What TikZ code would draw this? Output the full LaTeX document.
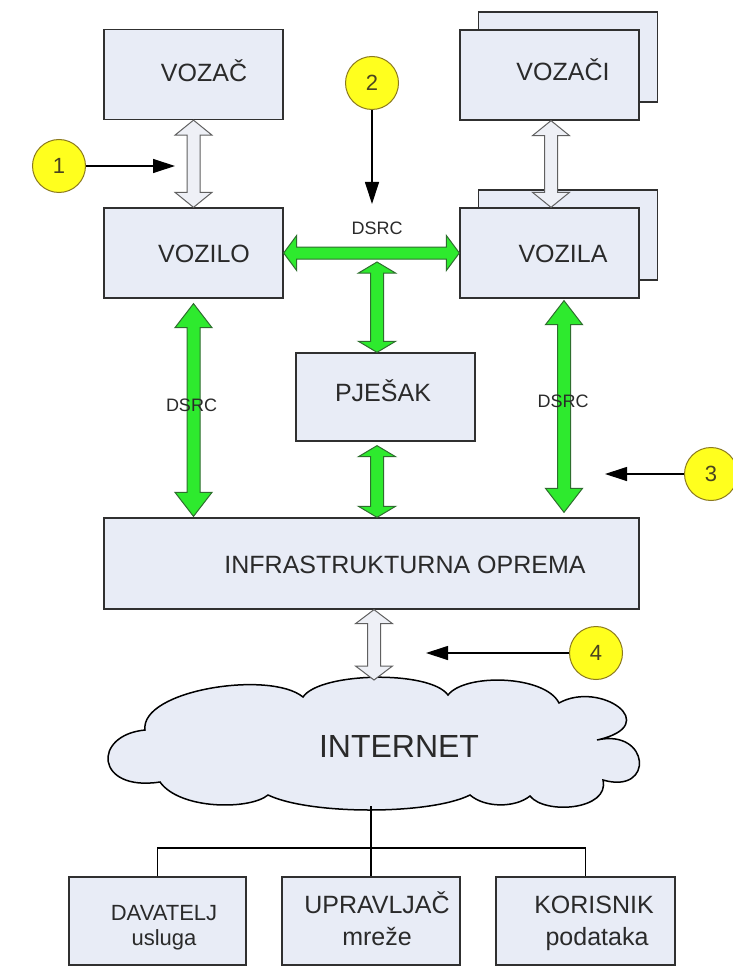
\documentclass[tikz,border=0pt]{standalone}
\usepackage{fontspec}
\setmainfont{Liberation Sans}
\usetikzlibrary{arrows.meta,calc}
\definecolor{boxfill}{HTML}{E8ECF6}
\definecolor{boxline}{HTML}{303030}
\definecolor{txt}{HTML}{2A2A2A}
\definecolor{grfill}{HTML}{2EEA2E}
\definecolor{grline}{HTML}{2E6E2E}
\definecolor{yfill}{HTML}{FFFF1E}
\definecolor{yline}{HTML}{8C7A1E}
\definecolor{ytxt}{HTML}{4A4420}
\definecolor{wfill}{HTML}{EEF0F6}
\definecolor{wline}{HTML}{606060}
\newcommand{\myVarrow}[4]{%
  \filldraw[#1] let \p1=(#2), \p2=(#3) in
   (\x1,\y1) -- (\x1+18.5pt,\y1-#4) -- (\x1+6.5pt,\y1-#4) -- (\x1+6.5pt,\y2+#4)
   -- (\x1+18.5pt,\y2+#4) -- (\x1,\y2) -- (\x1-18.5pt,\y2+#4) -- (\x1-6.5pt,\y2+#4)
   -- (\x1-6.5pt,\y1-#4) -- (\x1-18.5pt,\y1-#4) -- cycle;}
\newcommand{\myHarrow}[4]{%
  \filldraw[#1] let \p1=(#2), \p2=(#3) in
   (\x1,\y1) -- (\x1+#4,\y1+17.5pt) -- (\x1+#4,\y1+6pt) -- (\x2-#4,\y1+6pt)
   -- (\x2-#4,\y1+17.5pt) -- (\x2,\y1) -- (\x2-#4,\y1-17.5pt) -- (\x2-#4,\y1-6pt)
   -- (\x1+#4,\y1-6pt) -- (\x1+#4,\y1-17.5pt) -- cycle;}
\begin{document}
\begin{tikzpicture}[x=1pt,y=-1pt,
  box/.style={draw=boxline, fill=boxfill, line width=1.3pt, minimum width=179pt, minimum height=90pt, inner sep=0pt},
  lbl/.style={text=txt, font=\fontsize{25}{28}\selectfont, inner sep=0pt, anchor=base},
  small/.style={text=txt, font=\fontsize{22}{26}\selectfont, inner sep=0pt, anchor=base},
  dsrc/.style={text=txt, font=\fontsize{18}{20}\selectfont, inner sep=0pt, anchor=base},
  circ/.style={circle, minimum size=53pt, inner sep=0pt, fill=yfill, draw=yline, line width=1pt, text=ytxt, font=\fontsize{22}{24}\selectfont},
  callout/.style={draw=black, line width=1.2pt, -{Triangle[length=22pt,width=14pt]}},
  grarrow/.style={fill=grfill, draw=grline, line width=1pt},
  wharrow/.style={fill=wfill, draw=wline, line width=1pt},
  tree/.style={draw=black, line width=1.2pt}
]
\useasboundingbox (0,0) rectangle (732,968);
\fill[fill=white] (-10,-10) rectangle (742,978);

% boxes
\node[box] (vozac) at (193.5,74.5) {};
\node[box] (vozilo) at (193.5,253) {};
\node[box] (vozaciB) at (568,57) {};
\node[box] (vozaci) at (549.5,75) {};
\node[box] (vozilaB) at (568,235) {};
\node[box] (vozila) at (549.5,253) {};
\node[box, minimum height=88pt] (pjesak) at (385.5,397) {};
\node[box, minimum width=535pt, minimum height=91pt] (infra) at (371.5,563.5) {};
\node[box, minimum width=177pt, minimum height=88pt] (davatelj) at (157.5,921) {};
\node[box, minimum width=178pt, minimum height=88pt] (upravljac) at (371,921) {};
\node[box, minimum height=88pt] (korisnik) at (585.5,921) {};

% cloud
\filldraw[fill=boxfill, draw=black, line width=1.5pt]
  (145,730) .. controls (140,690) and (270,670) .. (303,697)
  .. controls (320,672) and (430,670) .. (448,695)
  .. controls (465,673) and (545,675) .. (559,703)
  .. controls (600,680) and (665,725) .. (597,740)
  .. controls (650,728) and (655,795) .. (603,780)
  .. controls (610,810) and (545,815) .. (530,796)
  .. controls (515,808) and (485,808) .. (470,795)
  .. controls (430,815) and (310,815) .. (268,795)
  .. controls (250,810) and (180,810) .. (160,782)
  .. controls (95,792) and (92,735) .. (145,730) -- cycle;
\coordinate (cloudtop) at (374,680);
\coordinate (cloudbot) at (371,806);

% labels
\node[lbl] (vozacT) at (204,82) {VOZAČ};
\node[lbl] (voziloT) at (204,262) {VOZILO};
\node[lbl] (vozaciT) at (563,81) {VOZAČI};
\node[lbl] (vozilaT) at (563,262) {VOZILA};
\node[lbl] (pjesakT) at (383,401) {PJEŠAK};
\node[lbl] (infraT) at (405,573) {INFRASTRUKTURNA OPREMA};
\node[lbl, font=\fontsize{32}{36}\selectfont] (internetT) at (399,757) {INTERNET};
\node[small] (davateljT) at (164,920) {DAVATELJ};
\node[small] (uslugaT) at (164,945) {usluga};
\node[lbl] (upravljacT) at (377,913) {UPRAVLJAČ};
\node[lbl] (mrezeT) at (377,945) {mreže};
\node[lbl] (korisnikT) at (594,913) {KORISNIK};
\node[lbl] (podatakaT) at (597,945) {podataka};

% white arrows
\myVarrow{wharrow}{vozac.south}{vozilo.north}{15pt}
\myVarrow{wharrow}{$(vozaci.south)+(1.5,0)$}{$(vozila.north)+(1.5,0)$}{15pt}
\myVarrow{wharrow}{$(infra.south)+(2.5,0)$}{cloudtop}{14pt}

% green arrows
\coordinate (j) at (377,262);
\myHarrow{grarrow}{vozilo.east}{vozila.west}{13pt}
\myVarrow{grarrow}{j}{j |- pjesak.north}{11pt}
\myVarrow{grarrow}{$(j |- pjesak.south)+(0,4)$}{j |- infra.north}{11pt}
\myVarrow{grarrow}{$(vozilo.south)+(0,5)$}{$(vozilo.south |- infra.north)+(0,-1)$}{24pt}
\myVarrow{grarrow}{$(vozila.south)+(14.5,2)$}{$(vozila.south |- infra.north)+(14.5,-5)$}{24pt}

\node[dsrc] (dsrc1) at (377,235) {DSRC};
\node[dsrc] (dsrc2) at (191.5,411) {DSRC};
\node[dsrc] (dsrc3) at (563,407) {DSRC};

% callouts
\node[circ] (c1) at (59,166) {1};
\node[circ] (c2) at (372,83) {2};
\node[circ] (c3) at (711,474) {3};
\node[circ] (c4) at (596,653) {4};
\coordinate (a1) at (175,166);
\coordinate (a2) at (372,204);
\coordinate (a3) at (605,474);
\coordinate (a4) at (426,653);
\draw[callout] (c1) -- (a1);
\draw[callout] (c2) -- (a2);
\draw[callout] (c3) -- (a3);
\draw[callout] (c4) -- (a4);

% tree
\coordinate (bus) at (371,848);
\draw[tree] (cloudbot) -- (bus);
\draw[tree] (davatelj.north) |- (bus) -| (korisnik.north);
\draw[tree] (bus) -- (upravljac.north);
\end{tikzpicture}
\end{document}
